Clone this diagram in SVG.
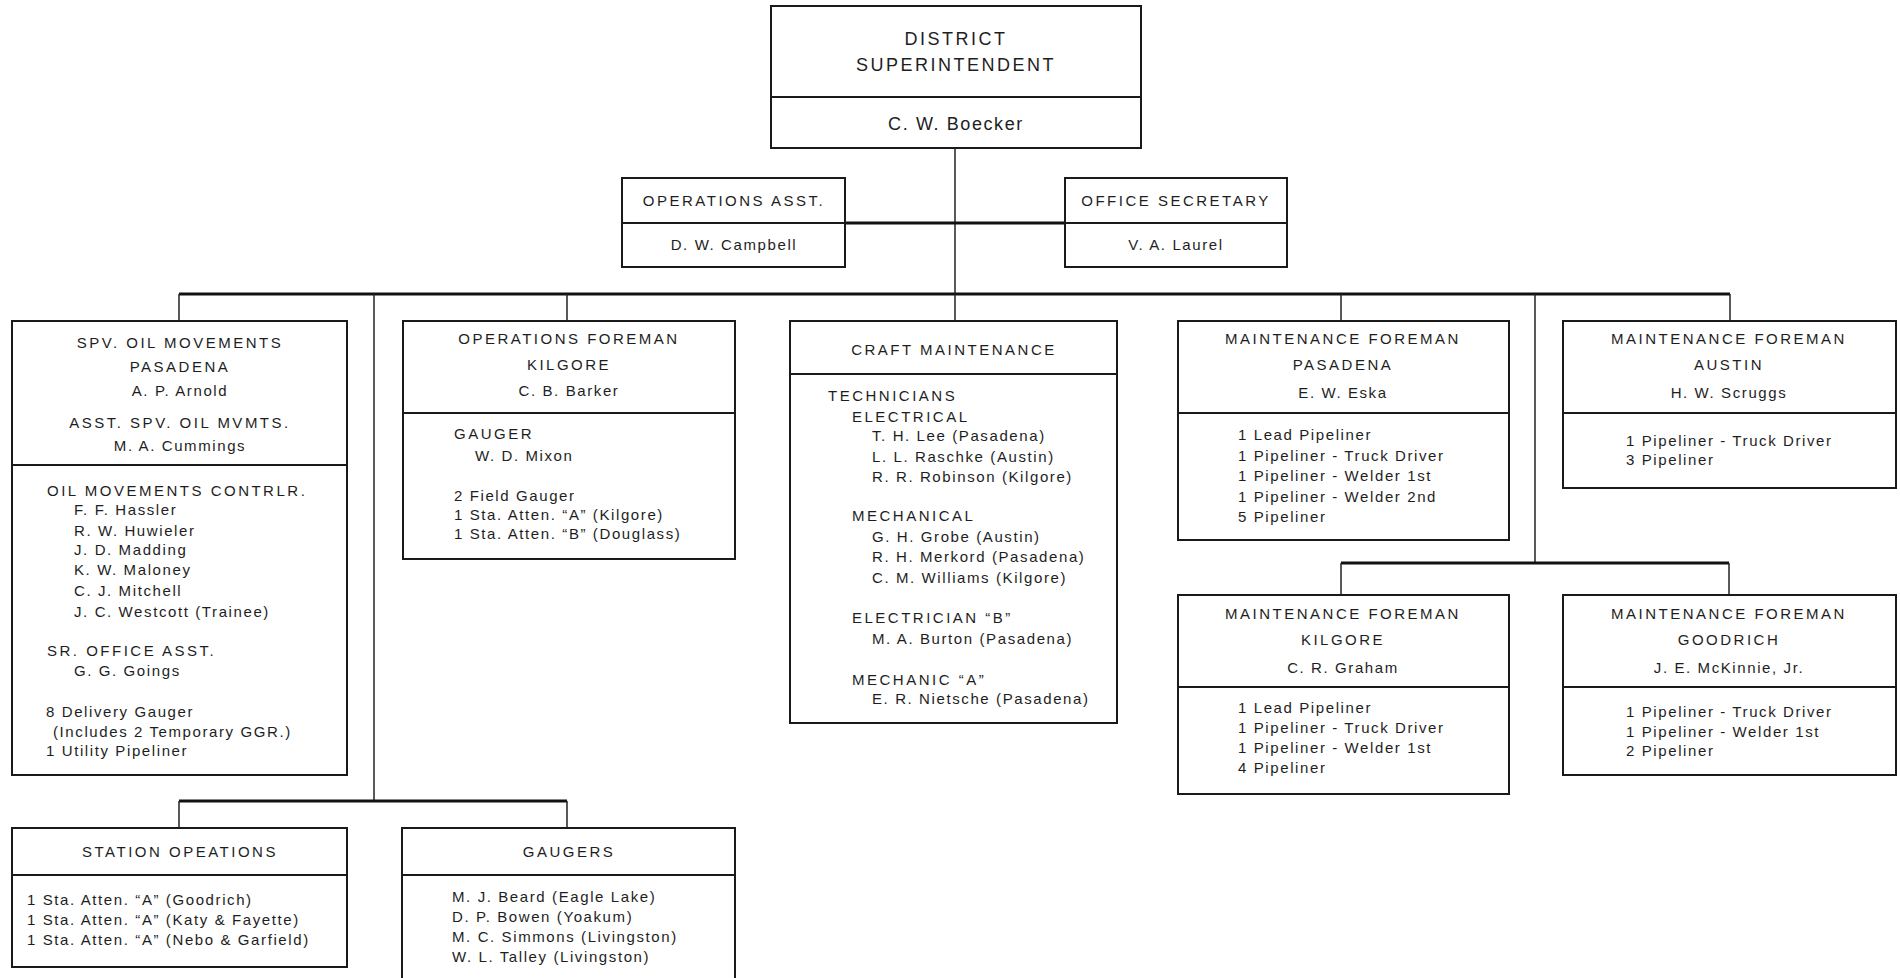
<svg xmlns="http://www.w3.org/2000/svg" width="1900" height="978" viewBox="0 0 1900 978">
<style>
.box{fill:#fff;stroke:#1a1a1a;stroke-width:2}
.dv{stroke:#1a1a1a;stroke-width:2}
.bus{stroke:#111;stroke-width:3;fill:none}
.drop{stroke:#222;stroke-width:1.5;fill:none}
text{font-family:"Liberation Sans",Arial,sans-serif;font-size:15px;fill:#1e1e1e}
.c{text-anchor:middle}
.cap{letter-spacing:2.5px}
.m{letter-spacing:1.6px}
.big{font-size:18px}
</style>
<rect x="0" y="0" width="1900" height="978" fill="#fff"/>
<g id="connectors">
<line class="drop" x1="955" y1="148" x2="955" y2="294"/>
<line class="bus" x1="845" y1="223" x2="1065" y2="223"/>
<line class="bus" x1="179" y1="294" x2="1730" y2="294"/>
<line class="drop" x1="179" y1="294" x2="179" y2="321"/>
<line class="drop" x1="567" y1="294" x2="567" y2="321"/>
<line class="drop" x1="955" y1="294" x2="955" y2="321"/>
<line class="drop" x1="1341" y1="294" x2="1341" y2="321"/>
<line class="drop" x1="1730" y1="294" x2="1730" y2="321"/>
<line class="drop" x1="374" y1="294" x2="374" y2="801"/>
<line class="drop" x1="1535" y1="294" x2="1535" y2="563"/>
<line class="bus" x1="1341" y1="563" x2="1729" y2="563"/>
<line class="drop" x1="1341" y1="563" x2="1341" y2="595"/>
<line class="drop" x1="1729" y1="563" x2="1729" y2="595"/>
<line class="bus" x1="179" y1="801" x2="567" y2="801"/>
<line class="drop" x1="179" y1="801" x2="179" y2="828"/>
<line class="drop" x1="567" y1="801" x2="567" y2="828"/>
</g>
<g id="district-superintendent">
<rect class="box" x="771" y="6" width="370" height="142"/>
<line class="dv" x1="771" y1="97" x2="1141" y2="97"/>
<text class="c cap big" x="956" y="45">DISTRICT</text>
<text class="c cap big" x="956" y="71">SUPERINTENDENT</text>
<text class="c m big" x="956" y="130">C. W. Boecker</text>
</g>
<g id="operations-asst">
<rect class="box" x="622" y="178" width="223" height="89"/>
<line class="dv" x1="622" y1="223" x2="845" y2="223"/>
<text class="c cap" x="734" y="206">OPERATIONS ASST.</text>
<text class="c m" x="734" y="250">D. W. Campbell</text>
</g>
<g id="office-secretary">
<rect class="box" x="1065" y="178" width="222" height="89"/>
<line class="dv" x1="1065" y1="223" x2="1287" y2="223"/>
<text class="c cap" x="1176" y="206">OFFICE SECRETARY</text>
<text class="c m" x="1176" y="250">V. A. Laurel</text>
</g>
<g id="spv-oil-movements">
<rect class="box" x="12" y="321" width="335" height="454"/>
<line class="dv" x1="12" y1="465" x2="347" y2="465"/>
<text class="c cap" x="180" y="348">SPV. OIL MOVEMENTS</text>
<text class="c cap" x="180" y="372">PASADENA</text>
<text class="c m" x="180" y="396">A. P. Arnold</text>
<text class="c cap" x="180" y="428">ASST. SPV. OIL MVMTS.</text>
<text class="c m" x="180" y="451">M. A. Cummings</text>
<text class="cap" x="47" y="496">OIL MOVEMENTS CONTRLR.</text>
<text class="m" x="74" y="515">F. F. Hassler</text>
<text class="m" x="74" y="536">R. W. Huwieler</text>
<text class="m" x="74" y="555">J. D. Madding</text>
<text class="m" x="74" y="575">K. W. Maloney</text>
<text class="m" x="74" y="596">C. J. Mitchell</text>
<text class="m" x="74" y="617">J. C. Westcott (Trainee)</text>
<text class="cap" x="47" y="656">SR. OFFICE ASST.</text>
<text class="m" x="74" y="676">G. G. Goings</text>
<text class="m" x="46" y="717">8 Delivery Gauger</text>
<text class="m" x="53" y="737">(Includes 2 Temporary GGR.)</text>
<text class="m" x="46" y="756">1 Utility Pipeliner</text>
</g>
<g id="operations-foreman-kilgore">
<rect class="box" x="403" y="321" width="332" height="238"/>
<line class="dv" x1="403" y1="413" x2="735" y2="413"/>
<text class="c cap" x="569" y="344">OPERATIONS FOREMAN</text>
<text class="c cap" x="569" y="370">KILGORE</text>
<text class="c m" x="569" y="396">C. B. Barker</text>
<text class="cap" x="454" y="439">GAUGER</text>
<text class="m" x="475" y="461">W. D. Mixon</text>
<text class="m" x="454" y="501">2 Field Gauger</text>
<text class="m" x="454" y="520">1 Sta. Atten. “A” (Kilgore)</text>
<text class="m" x="454" y="539">1 Sta. Atten. “B” (Douglass)</text>
</g>
<g id="craft-maintenance">
<rect class="box" x="790" y="321" width="327" height="402"/>
<line class="dv" x1="790" y1="374" x2="1117" y2="374"/>
<text class="c cap" x="954" y="355">CRAFT MAINTENANCE</text>
<text class="cap" x="828" y="401">TECHNICIANS</text>
<text class="cap" x="852" y="422">ELECTRICAL</text>
<text class="m" x="872" y="441">T. H. Lee (Pasadena)</text>
<text class="m" x="872" y="462">L. L. Raschke (Austin)</text>
<text class="m" x="872" y="482">R. R. Robinson (Kilgore)</text>
<text class="cap" x="852" y="521">MECHANICAL</text>
<text class="m" x="872" y="542">G. H. Grobe (Austin)</text>
<text class="m" x="872" y="562">R. H. Merkord (Pasadena)</text>
<text class="m" x="872" y="583">C. M. Williams (Kilgore)</text>
<text class="cap" x="852" y="623">ELECTRICIAN “B”</text>
<text class="m" x="872" y="644">M. A. Burton (Pasadena)</text>
<text class="cap" x="852" y="685">MECHANIC “A”</text>
<text class="m" x="872" y="704">E. R. Nietsche (Pasadena)</text>
</g>
<g id="maintenance-foreman-pasadena">
<rect class="box" x="1178" y="321" width="331" height="219"/>
<line class="dv" x1="1178" y1="413" x2="1509" y2="413"/>
<text class="c cap" x="1343" y="344">MAINTENANCE FOREMAN</text>
<text class="c cap" x="1343" y="370">PASADENA</text>
<text class="c m" x="1343" y="398">E. W. Eska</text>
<text class="m" x="1238" y="440">1 Lead Pipeliner</text>
<text class="m" x="1238" y="461">1 Pipeliner - Truck Driver</text>
<text class="m" x="1238" y="481">1 Pipeliner - Welder 1st</text>
<text class="m" x="1238" y="502">1 Pipeliner - Welder 2nd</text>
<text class="m" x="1238" y="522">5 Pipeliner</text>
</g>
<g id="maintenance-foreman-austin">
<rect class="box" x="1563" y="321" width="333" height="167"/>
<line class="dv" x1="1563" y1="413" x2="1896" y2="413"/>
<text class="c cap" x="1729" y="344">MAINTENANCE FOREMAN</text>
<text class="c cap" x="1729" y="370">AUSTIN</text>
<text class="c m" x="1729" y="398">H. W. Scruggs</text>
<text class="m" x="1626" y="446">1 Pipeliner - Truck Driver</text>
<text class="m" x="1626" y="465">3 Pipeliner</text>
</g>
<g id="maintenance-foreman-kilgore">
<rect class="box" x="1178" y="595" width="331" height="199"/>
<line class="dv" x1="1178" y1="687" x2="1509" y2="687"/>
<text class="c cap" x="1343" y="619">MAINTENANCE FOREMAN</text>
<text class="c cap" x="1343" y="645">KILGORE</text>
<text class="c m" x="1343" y="673">C. R. Graham</text>
<text class="m" x="1238" y="713">1 Lead Pipeliner</text>
<text class="m" x="1238" y="733">1 Pipeliner - Truck Driver</text>
<text class="m" x="1238" y="753">1 Pipeliner - Welder 1st</text>
<text class="m" x="1238" y="773">4 Pipeliner</text>
</g>
<g id="maintenance-foreman-goodrich">
<rect class="box" x="1563" y="595" width="333" height="180"/>
<line class="dv" x1="1563" y1="687" x2="1896" y2="687"/>
<text class="c cap" x="1729" y="619">MAINTENANCE FOREMAN</text>
<text class="c cap" x="1729" y="645">GOODRICH</text>
<text class="c m" x="1729" y="673">J. E. McKinnie, Jr.</text>
<text class="m" x="1626" y="717">1 Pipeliner - Truck Driver</text>
<text class="m" x="1626" y="737">1 Pipeliner - Welder 1st</text>
<text class="m" x="1626" y="756">2 Pipeliner</text>
</g>
<g id="station-operations">
<rect class="box" x="12" y="828" width="335" height="139"/>
<line class="dv" x1="12" y1="875" x2="347" y2="875"/>
<text class="c cap" x="180" y="857">STATION OPEATIONS</text>
<text class="m" x="27" y="905">1 Sta. Atten. “A” (Goodrich)</text>
<text class="m" x="27" y="925">1 Sta. Atten. “A” (Katy &amp; Fayette)</text>
<text class="m" x="27" y="945">1 Sta. Atten. “A” (Nebo &amp; Garfield)</text>
</g>
<g id="gaugers">
<rect class="box" x="402" y="828" width="333" height="170"/>
<line class="dv" x1="402" y1="875" x2="735" y2="875"/>
<text class="c cap" x="569" y="857">GAUGERS</text>
<text class="m" x="452" y="902">M. J. Beard (Eagle Lake)</text>
<text class="m" x="452" y="922">D. P. Bowen (Yoakum)</text>
<text class="m" x="452" y="942">M. C. Simmons (Livingston)</text>
<text class="m" x="452" y="962">W. L. Talley (Livingston)</text>
</g>
</svg>
